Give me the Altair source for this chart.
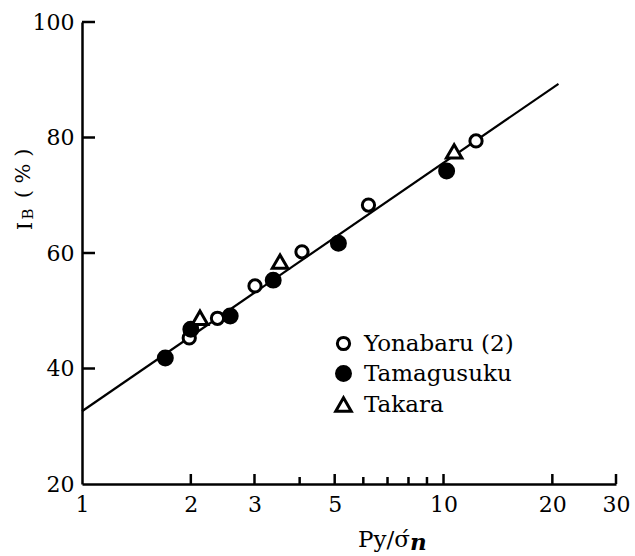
import altair as alt
import pandas as pd

# ---- data ----
series_names = ["Yonabaru (2)", "Tamagusuku", "Takara"]

yona_x = [1.98, 2.37, 3.01, 4.06, 6.20, 12.3]
yona_y = [45.3, 48.7, 54.3, 60.2, 68.3, 79.4]
tama_x = [1.70, 2.00, 2.57, 3.38, 5.12, 10.2]
tama_y = [41.8, 46.8, 49.1, 55.3, 61.7, 74.2]
taka_x = [2.12, 3.53, 10.7]
taka_y = [48.8, 58.5, 77.6]

fit_x = [1.0, 20.8]
fit_y = [32.6, 89.3]

x_label_values = [1, 2, 3, 5, 10, 20, 30]
x_major_ticks = [2, 3, 5, 10, 20, 30]
x_minor_ticks = [4, 6, 7, 8, 9]
y_label_values = [20, 40, 60, 80, 100]
y_inner_ticks = [40, 60, 80, 100]

W, H = 534, 462
FONT = "DejaVu Serif"

pts = pd.DataFrame({
    "x": yona_x + tama_x + taka_x,
    "y": yona_y + tama_y + taka_y,
    "series": [series_names[0]] * len(yona_x)
    + [series_names[1]] * len(tama_x)
    + [series_names[2]] * len(taka_x),
})
fit = pd.DataFrame({"x": fit_x, "y": fit_y})
xmaj = pd.DataFrame({"x": x_major_ticks})
xmin = pd.DataFrame({"x": x_minor_ticks})
ytk = pd.DataFrame({"y": y_inner_ticks})
dummy = pd.DataFrame({"a": [0]})

xscale = alt.Scale(type="log", domain=[1, 30], nice=False)
yscale = alt.Scale(domain=[20, 100], nice=False, zero=False)

xaxis = alt.Axis(values=x_label_values, format="d", ticks=False, grid=False,
                 domainWidth=2.5, domainColor="black", labelFont=FONT,
                 labelFontSize=22, labelColor="black", labelPadding=10,
                 labelFlush=False, labelOverlap=False, title=None)
yaxis = alt.Axis(values=y_label_values, ticks=False, grid=False,
                 domainWidth=2.5, domainColor="black", labelFont=FONT,
                 labelFontSize=22, labelColor="black", labelPadding=8,
                 labelOverlap=False, labelFlush=False, title=None)

leg = alt.Legend(title=None, orient="none", legendX=250, legendY=310,
                 labelFont=FONT, labelFontSize=23, labelColor="black",
                 rowPadding=4, labelOffset=9, symbolStrokeColor="black",
                 symbolStrokeWidth=3, padding=0)

X = alt.X("x:Q", scale=xscale, axis=xaxis)
Y = alt.Y("y:Q", scale=yscale, axis=yaxis)

line = alt.Chart(fit).mark_line(color="black", strokeWidth=2.2).encode(x=X, y=Y)

points = alt.Chart(pts).mark_point(
    strokeWidth=3, opacity=1, fillOpacity=1, strokeOpacity=1, filled=False
).encode(
    x=X, y=Y,
    shape=alt.Shape("series:N", sort=series_names,
                    scale=alt.Scale(domain=series_names,
                                    range=["circle", "circle", "triangle-up"]),
                    legend=leg),
    fill=alt.Fill("series:N", sort=series_names,
                  scale=alt.Scale(domain=series_names,
                                  range=["white", "black", "white"]),
                  legend=leg),
    stroke=alt.Stroke("series:N", sort=series_names,
                      scale=alt.Scale(domain=series_names,
                                      range=["black", "black", "black"]),
                      legend=leg),
    size=alt.Size("series:N", sort=series_names,
                  scale=alt.Scale(domain=series_names, range=[150, 240, 190]),
                  legend=leg),
)

xt_major = alt.Chart(xmaj).mark_rule(color="black", strokeWidth=2.5).encode(
    x=X, y=alt.value(H), y2=alt.value(H - 10))
xt_minor = alt.Chart(xmin).mark_rule(color="black", strokeWidth=2.5).encode(
    x=X, y=alt.value(H), y2=alt.value(H - 7))
yt = alt.Chart(ytk).mark_rule(color="black", strokeWidth=2.5).encode(
    y=Y, x=alt.value(0), x2=alt.value(13))

def txt(s, x, y, size, angle=0, align="center", baseline="middle", style="normal", weight="normal"):
    return alt.Chart(dummy).mark_text(
        font=FONT, fontSize=size, angle=angle, align=align, baseline=baseline,
        fontStyle=style, fontWeight=weight, color="black"
    ).encode(x=alt.value(x), y=alt.value(y), text=alt.value(s))

ytitle_I = txt("I", -56, 204, 21, angle=270)
ytitle_B = txt("B", -54, 192, 15, angle=270)
ytitle_p = txt("( % )", -58, 151.5, 21, angle=270)
xtitle_a = txt("Py/σ\u0301", 276, 525, 23, align="left", baseline="alphabetic")
xtitle_n = txt("n", 328, 528, 23, align="left", baseline="alphabetic",
               style="italic", weight="bold")

chart = alt.layer(
    line, xt_major, xt_minor, yt, points,
    ytitle_I, ytitle_B, ytitle_p, xtitle_a, xtitle_n
).properties(
    width=W, height=H,
    autosize=alt.AutoSizeParams(type="none"),
    padding={"left": 82, "top": 22, "right": 635 - 82 - W, "bottom": 556 - 22 - H},
    background="white",
).configure_view(stroke=None)

chart.save("out.html", embed_options={"renderer": "svg", "actions": False})
